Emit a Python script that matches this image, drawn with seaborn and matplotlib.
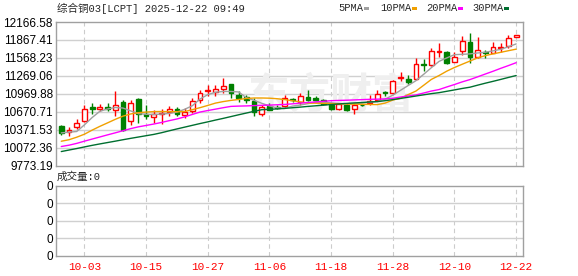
import matplotlib
matplotlib.use("Agg")
import matplotlib.pyplot as plt
from matplotlib.patches import Rectangle
import seaborn as sns
import pandas as pd
import numpy as np

dates = ["09-30", "10-01", "10-02", "10-03", "10-06", "10-07", "10-08", "10-09", "10-10",
         "10-13", "10-14", "10-15", "10-16", "10-17", "10-20", "10-21", "10-22", "10-23",
         "10-24", "10-27", "10-28", "10-29", "10-30", "10-31", "11-03", "11-04", "11-05",
         "11-06", "11-07", "11-10", "11-11", "11-12", "11-13", "11-14", "11-17", "11-18",
         "11-19", "11-20", "11-21", "11-24", "11-25", "11-26", "11-27", "11-28", "12-01",
         "12-02", "12-03", "12-04", "12-05", "12-08", "12-09", "12-10", "12-11", "12-12",
         "12-15", "12-16", "12-17", "12-18", "12-19", "12-22"]

opens = [10438, 10333, 10410, 10521, 10742, 10709, 10742, 10692, 10832, 10510,
         10882, 10632, 10582, 10632, 10659, 10716, 10621, 10676, 10870, 11015,
         10992, 11048, 11136, 10953, 10915, 10842, 10637, 10770, 10750, 10760,
         10880, 10840, 10915, 10900, 10860, 10775, 10716, 10787, 10716, 10790,
         10815, 10860, 11003, 10982, 11230, 11214, 11214, 11464, 11452, 11673,
         11663, 11507, 11685, 11829, 11580, 11673, 11657, 11740, 11772, 11912]
highs = [10455, 10410, 10549, 10775, 10815, 10799, 10815, 11020, 10870, 10870,
         10898, 10775, 10692, 10716, 10759, 10749, 10732, 10898, 11025, 11119,
         11119, 11231, 11140, 11008, 10953, 10898, 10787, 10815, 10790, 10950,
         10900, 10990, 11036, 10935, 10880, 10800, 10820, 10820, 10815, 10800,
         10953, 11036, 11020, 11203, 11340, 11286, 11564, 11552, 11740, 11812,
         11685, 11673, 11934, 11989, 11922, 11701, 11840, 11812, 11950, 11950]
lows = [10288, 10272, 10388, 10504, 10632, 10687, 10676, 10593, 10343, 10455,
        10483, 10549, 10483, 10471, 10604, 10593, 10566, 10649, 10815, 10925,
        10937, 10982, 10900, 10832, 10820, 10593, 10593, 10692, 10720, 10730,
        10840, 10790, 10842, 10842, 10790, 10704, 10700, 10690, 10632, 10770,
        10787, 10842, 10925, 10970, 11186, 11136, 11203, 11357, 11435, 11590,
        11463, 11497, 11618, 11480, 11563, 11563, 11646, 11663, 11730, 11912]
closes = [10316, 10372, 10483, 10716, 10709, 10754, 10709, 10782, 10372, 10815,
          10632, 10604, 10637, 10649, 10716, 10632, 10666, 10842, 10982, 11025,
          11053, 11103, 10990, 10898, 10859, 10659, 10749, 10704, 10740, 10900,
          10860, 10940, 10860, 10870, 10805, 10720, 10799, 10704, 10775, 10785,
          10855, 10965, 10975, 11186, 11248, 11158, 11464, 11452, 11685, 11690,
          11490, 11590, 11850, 11590, 11701, 11646, 11756, 11752, 11896, 11950]

ma5 = [10317, 10329, 10340, 10451, 10573, 10677, 10716, 10740, 10732, 10684,
       10638, 10628, 10623, 10631, 10641, 10664, 10710, 10770, 10883, 10955,
       10995, 11008, 11008, 11000, 10904, 10860, 10811, 10767, 10734, 10729,
       10764, 10782, 10805, 10829, 10827, 10819, 10809, 10800, 10804, 10815,
       10829, 10839, 10879, 10947, 11027, 11108, 11188, 11294, 11405, 11510,
       11568, 11622, 11627, 11635, 11650, 11663, 11685, 11711, 11754, 11801]
ma10 = [10178, 10203, 10245, 10295, 10363, 10426, 10484, 10543, 10596, 10633,
        10654, 10664, 10672, 10674, 10672, 10671, 10672, 10705, 10738, 10775,
        10814, 10839, 10859, 10874, 10891, 10899, 10899, 10896, 10887, 10872,
        10852, 10834, 10815, 10812, 10809, 10805, 10802, 10799, 10796, 10794,
        10791, 10789, 10814, 10865, 10895, 10956, 11015, 11111, 11209, 11274,
        11347, 11408, 11462, 11515, 11568, 11606, 11635, 11661, 11688, 11714]
ma20 = [10090, 10112, 10142, 10179, 10214, 10249, 10284, 10318, 10353, 10388,
        10418, 10441, 10465, 10491, 10521, 10549, 10584, 10625, 10665, 10690,
        10713, 10737, 10759, 10764, 10767, 10772, 10777, 10781, 10786, 10792,
        10802, 10814, 10824, 10834, 10844, 10854, 10859, 10862, 10867, 10872,
        10877, 10880, 10884, 10894, 10915, 10933, 10950, 10982, 11015, 11040,
        11083, 11124, 11168, 11206, 11252, 11299, 11345, 11394, 11440, 11488]
ma30 = [10006, 10031, 10056, 10083, 10109, 10133, 10156, 10179, 10203, 10226,
        10248, 10270, 10292, 10320, 10352, 10383, 10413, 10443, 10473, 10501,
        10531, 10559, 10589, 10619, 10648, 10677, 10704, 10710, 10717, 10726,
        10737, 10747, 10759, 10769, 10780, 10790, 10800, 10809, 10817, 10824,
        10832, 10839, 10854, 10872, 10892, 10912, 10932, 10952, 10972, 10988,
        11011, 11034, 11058, 11079, 11113, 11146, 11177, 11209, 11242, 11274]

y_ticks = [9773.19, 10072.36, 10371.53, 10670.71, 10969.88, 11269.06, 11568.23, 11867.41, 12166.58]
date_tick_labels = ["10-03", "10-15", "10-27", "11-06", "11-18", "11-28", "12-10", "12-22"]
ma_names = ["5PMA", "10PMA", "20PMA", "30PMA"]
ma_colors = ["#a0a0a0", "#f0a000", "#ff00ff", "#006f30"]
title_text = "综合铜03[LCPT] 2025-12-22 09:49"
volume_label = "成交量:0"

sns.set_style("white")
plt.rcParams["font.family"] = ["Liberation Sans", "Noto Sans CJK SC", "DejaVu Sans"]
MONO = ["Liberation Mono", "Noto Sans CJK SC", "DejaVu Sans"]

W, H = 578, 276
fig = plt.figure(figsize=(W / 100, H / 100), dpi=100)
fig.patch.set_facecolor("white")

L, R = 55.5, 522.5
ax = fig.add_axes([L / W, (H - 165.5) / H, (R - L) / W, 143.5 / H])
axv = fig.add_axes([L / W, (H - 255.5) / H, (R - L) / W, 69.5 / H])

df = pd.DataFrame({"date": dates, "open": opens, "high": highs, "low": lows, "close": closes,
                   "ma5": ma5, "ma10": ma10, "ma20": ma20, "ma30": ma30})
df["idx"] = np.arange(len(df))

RED, GREEN = "#ff0000", "#008000"
for _, r in df.iterrows():
    x = r["idx"]
    up = r["close"] >= r["open"]
    col = RED if up else GREEN
    lo_b, hi_b = min(r["open"], r["close"]), max(r["open"], r["close"])
    ax.vlines(x, r["low"], lo_b, color=col, linewidth=1, zorder=2)
    ax.vlines(x, hi_b, r["high"], color=col, linewidth=1, zorder=2)
    h = max(hi_b - lo_b, 6)
    ax.bar(x, h, bottom=lo_b - (h - (hi_b - lo_b)) / 2, width=0.62,
           facecolor="white" if up else GREEN, edgecolor=col, linewidth=1, zorder=2)

for name, col in zip(["ma5", "ma10", "ma20", "ma30"], ma_colors):
    sns.lineplot(data=df, x="idx", y=name, color=col, linewidth=1, ax=ax, legend=False, zorder=3)

ax.text(0.59, 0.49, "东方财富", transform=ax.transAxes, fontsize=30, color="#efefef",
        family=["Noto Sans CJK SC"], fontweight="bold", ha="center", va="center", zorder=1)

tick_idx = [dates.index(d) for d in date_tick_labels]
for a in (ax, axv):
    a.set_xlim(-0.75, 59.82)
    for s in a.spines.values():
        s.set_color("#a0a0a0")
        s.set_linewidth(1)
    for t in tick_idx:
        a.axvline(t, color="#cccccc", linestyle=(0, (4, 3)), linewidth=0.8, zorder=0.5)
    a.set_xlabel("")
    a.set_ylabel("")
    a.tick_params(length=0, pad=2)

ax.set_ylim(y_ticks[0], y_ticks[-1])
ax.set_yticks(y_ticks)
ax.set_yticklabels([f"{v:.2f}" for v in y_ticks], fontsize=8.5, color="black")
ax.set_xticks([])
for v in y_ticks[1:-1]:
    ax.axhline(v, color="#d0d0d0", linewidth=1, zorder=0.5)

axv.set_ylim(0, 4)
axv.set_yticks([0, 1, 2, 3, 4])
axv.set_yticklabels(["0"] * 5, fontsize=8.5, color="black")
for v in [1, 2, 3]:
    axv.axhline(v, color="#d0d0d0", linewidth=1, zorder=0.5)
axv.set_xticks(tick_idx)
axv.set_xticklabels(date_tick_labels, color="red", fontsize=8, family=MONO)
axv.tick_params(axis="x", pad=5)

fig.text(57 / W, 1 - 8 / H, title_text, fontsize=7.6, family=MONO, va="center", ha="left")
fig.text(57 / W, 1 - 177 / H, volume_label, fontsize=7.6, family=MONO, va="center", ha="left")

leg_x = [338, 380, 426, 472]
for name, col, lx in zip(ma_names, ma_colors, leg_x):
    t = fig.text(lx / W, 1 - 8 / H, name, fontsize=7.5, family=MONO, va="center", ha="left")
    off = 26 if name == "5PMA" else 32
    fig.add_artist(Rectangle(((lx + off) / W, 1 - 10 / H), 5 / W, 3 / H,
                             transform=fig.transFigure, facecolor=col, edgecolor="none"))

fig.savefig("out.png", dpi=100)
